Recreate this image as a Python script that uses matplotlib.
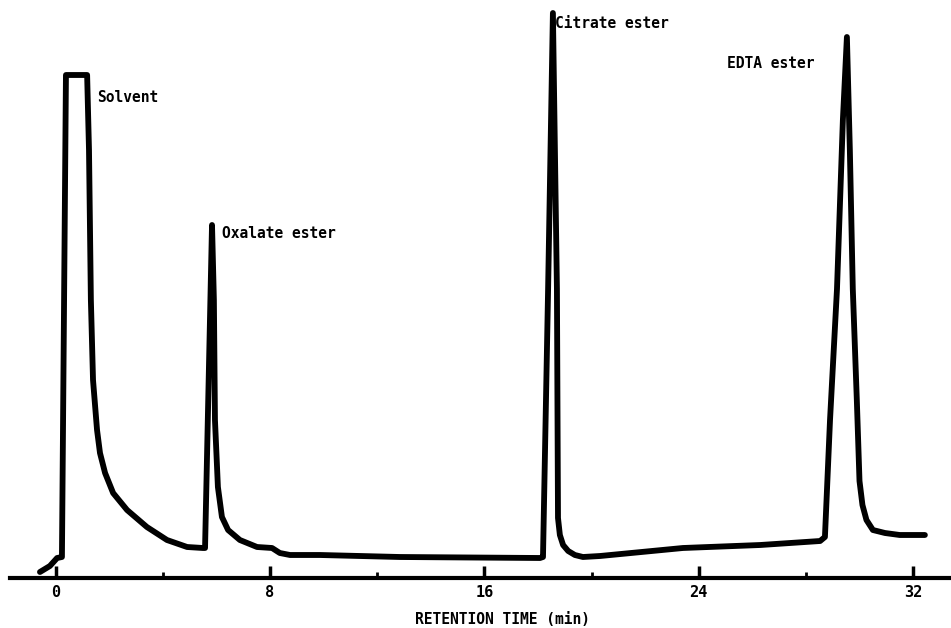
import matplotlib.pyplot as plt

# chromatogram trace (time in min, detector response in arbitrary units)
time_min = [-0.58, -0.21, 0.06, 0.24, 0.32, 0.39, 1.18, 1.25, 1.32, 1.40, 1.55, 1.66,
            1.85, 2.15, 2.67, 3.41, 4.16, 4.91, 5.50, 5.58, 5.84, 5.91, 5.95, 6.06,
            6.21, 6.44, 6.88, 7.52, 8.08, 8.37, 8.75, 9.87, 12.85, 18.08, 18.19,
            18.38, 18.56, 18.71, 18.75, 18.82, 18.94, 19.13, 19.38, 19.68, 20.32,
            23.41, 26.30, 28.53, 28.71, 28.90, 29.16, 29.38, 29.53, 29.64, 29.75,
            29.90, 30.00, 30.11, 30.26, 30.50, 30.95, 31.50, 32.44]
response = [6, 12, 20, 21, 278, 503, 503, 428, 278, 198, 148, 125,
            105, 85, 68, 51, 38, 31, 30, 30, 353, 278, 158, 91,
            61, 48, 38, 31, 30, 25, 23, 23, 21, 20, 21,
            288, 565, 289, 60, 43, 33, 27, 23, 21, 22,
            30, 33, 37, 41, 158, 289, 458, 541, 428, 289,
            178, 97, 73, 58, 48, 45, 43, 43]

peak_names = ['Solvent', 'Oxalate ester', 'Citrate ester', 'EDTA ester']
label_t = [1.55, 6.21, 18.64, 25.06]
label_r = [480, 344, 555, 515]

major_ticks = [0, 8, 16, 24, 32]
minor_ticks = [4, 12, 20, 28]

font = 'DejaVu Sans Mono'

fig = plt.figure(figsize=(9.51, 6.28), dpi=100)
ax = fig.add_axes([0, 50 / 628, 1, 578 / 628])

ax.plot(time_min, response, color='black', linewidth=4.2,
        solid_joinstyle='round', solid_capstyle='round', clip_on=False)

for name, t, r in zip(peak_names, label_t, label_r):
    ax.text(t, r, name, fontsize=10.5, fontweight='bold', family=font,
            ha='left', va='center')

ax.set_xlim(-55.5 / 26.8, (951 - 55.5) / 26.8)
ax.set_ylim(0, 578)

for side in ['top', 'right', 'left']:
    ax.spines[side].set_visible(False)
ax.spines['bottom'].set_linewidth(3)
ax.spines['bottom'].set_bounds(-1.70, 33.41)

ax.set_yticks([])
ax.set_xticks(major_ticks)
ax.set_xticks(minor_ticks, minor=True)
ax.tick_params(axis='x', which='major', direction='in', length=9, width=2.5, pad=5)
ax.tick_params(axis='x', which='minor', direction='in', length=4, width=2)
for lbl in ax.get_xticklabels():
    lbl.set_family(font)
    lbl.set_fontweight('bold')
    lbl.set_fontsize(11)

fig.text(502 / 951, 1 - 620 / 628, 'RETENTION TIME (min)', fontsize=10.5,
         fontweight='bold', family=font, ha='center', va='center')

fig.savefig('out.png', dpi=100)
